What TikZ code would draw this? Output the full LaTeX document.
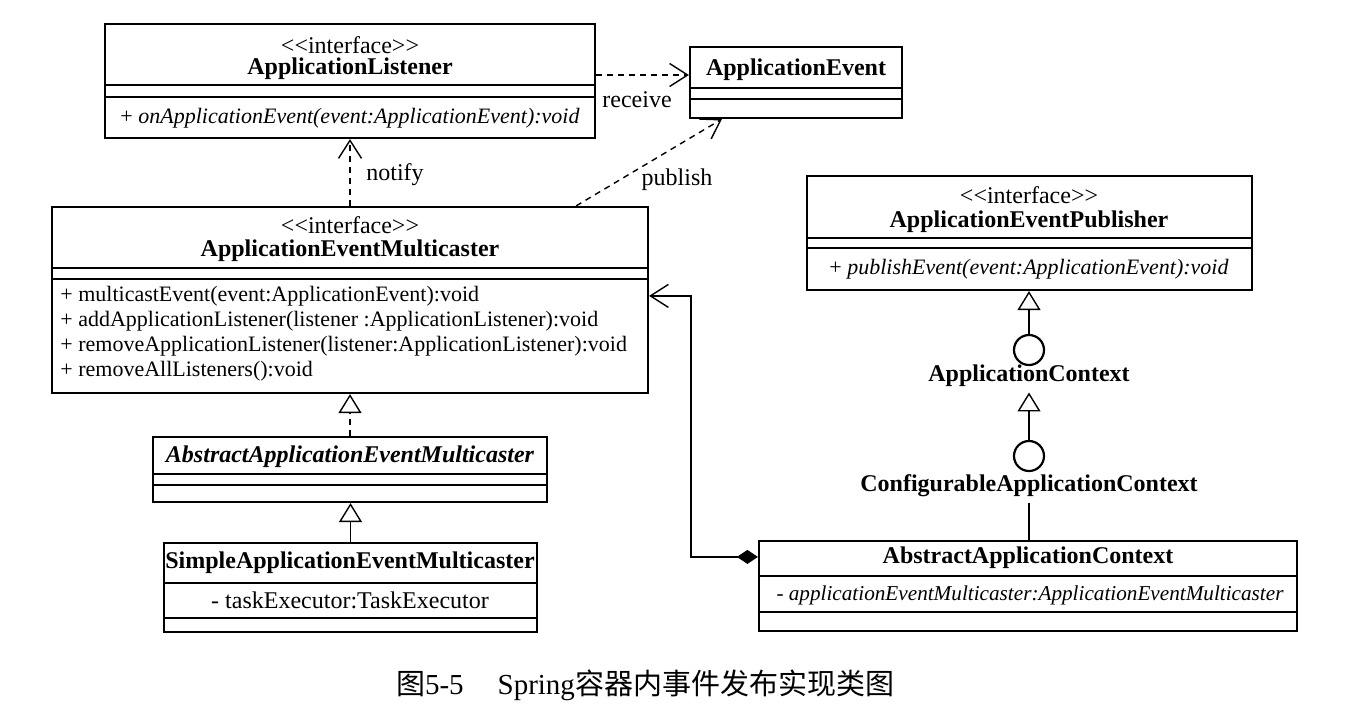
\documentclass[tikz,border=0pt]{standalone}
\usepackage{fontspec}
\setmainfont{Liberation Serif}
\newfontfamily\cjkfont{Noto Sans CJK SC}
\usetikzlibrary{arrows.meta, positioning, calc, fit}
\newcommand\stereo[1]{<\kern0pt<#1>\kern0pt>}

\begin{document}
\begin{tikzpicture}[x=0.5pt, y=-0.5pt,
    cls/.style={draw, line width=1.1pt, inner sep=0pt},
    sep/.style={line width=0.6pt},
    txt/.style={inner sep=1pt, font=\fontsize{11}{12.5}\selectfont},
    big/.style={inner sep=1pt, font=\fontsize{12}{14}\selectfont},
    cname/.style={inner sep=1pt, font=\fontsize{12}{14}\selectfont\bfseries},
    lbl/.style={inner sep=2.6pt, font=\fontsize{12}{14}\selectfont\bfseries},
    dep/.style={line width=0.7pt, dash pattern=on 3pt off 2.5pt, -{Straight Barb[length=9pt, width=11.5pt]}},
    gen/.style={line width=0.7pt, -{Triangle[open, length=9.5pt, width=11.5pt]}},
    real/.style={gen, dash pattern=on 3pt off 2.5pt},
    comp/.style={line width=0.7pt, {Diamond[length=10.5pt, width=7pt]}-{Straight Barb[length=9pt, width=11.5pt]}},
    lolli/.style={circle, draw, line width=1.1pt, minimum size=15pt, inner sep=0pt},
]
\useasboundingbox (0,0) rectangle (1358,718);

% ApplicationListener
\node[cls, fit={(105,24) (595,138)}] (al) {};
\draw[sep] (al.west |- 0,85) -- (al.east |- 0,85);
\draw[sep] (al.west |- 0,97) -- (al.east |- 0,97);
\node[big] (alst) at (350,45) {\stereo{interface}};
\node[cname] (alnm) at (350,69) {ApplicationListener};
\node[txt] (alop) at (350,118) {+ \textit{onApplicationEvent(event:ApplicationEvent):void}};

% ApplicationEvent
\node[cls, fit={(690,47) (902,118)}] (ae) {};
\draw[sep] (ae.west |- 0,88) -- (ae.east |- 0,88);
\draw[sep] (ae.west |- 0,99) -- (ae.east |- 0,99);
\node[cname] (aenm) at (796,70) {ApplicationEvent};

% ApplicationEventMulticaster
\node[cls, fit={(52,207) (648,393)}] (aem) {};
\draw[sep] (aem.west |- 0,268) -- (aem.east |- 0,268);
\draw[sep] (aem.west |- 0,279) -- (aem.east |- 0,279);
\node[big] (aemst) at (350,225) {\stereo{interface}};
\node[cname] (aemnm) at (350,251) {ApplicationEventMulticaster};
\node[txt, anchor=west, align=left] (aemop) at (58,334) {+ multicastEvent(event:ApplicationEvent):void\\
    + addApplicationListener(listener :ApplicationListener):void\\
    + removeApplicationListener(listener:ApplicationListener):void\\
    + removeAllListeners():void};

% AbstractApplicationEventMulticaster
\node[cls, fit={(153,437) (547,502)}] (aaem) {};
\draw[sep] (aaem.west |- 0,474) -- (aaem.east |- 0,474);
\draw[sep] (aaem.west |- 0,485) -- (aaem.east |- 0,485);
\node[cname, font=\fontsize{12}{14}\selectfont\bfseries\itshape] (aaemnm) at (350,457) {AbstractApplicationEventMulticaster};

% SimpleApplicationEventMulticaster
\node[cls, fit={(164,543) (537,632)}] (saem) {};
\draw[sep] (saem.west |- 0,583) -- (saem.east |- 0,583);
\draw[sep] (saem.west |- 0,618) -- (saem.east |- 0,618);
\node[cname] (saemnm) at (350,563) {SimpleApplicationEventMulticaster};
\node[big] (saemat) at (350,600) {- taskExecutor:TaskExecutor};

% ApplicationEventPublisher
\node[cls, fit={(807,176) (1252,290)}] (pub) {};
\draw[sep] (pub.west |- 0,238) -- (pub.east |- 0,238);
\draw[sep] (pub.west |- 0,248) -- (pub.east |- 0,248);
\node[big] (pubst) at (1029,195) {\stereo{interface}};
\node[cname] (pubnm) at (1029,222) {ApplicationEventPublisher};
\node[txt] (pubop) at (1029,269) {+ \textit{publishEvent(event:ApplicationEvent):void}};

% ApplicationContext, ConfigurableApplicationContext
\node[lolli] (ac) at (1029,350) {};
\node[lbl] (acnm) at (1029,376) {ApplicationContext};
\node[lolli] (cac) at (1029,456) {};
\node[lbl] (cacnm) at (1029,486) {ConfigurableApplicationContext};

% AbstractApplicationContext
\node[cls, fit={(759,541) (1297,631)}] (aac) {};
\draw[sep] (aac.west |- 0,576) -- (aac.east |- 0,576);
\draw[sep] (aac.west |- 0,612) -- (aac.east |- 0,612);
\node[cname] (aacnm) at (1028,558) {AbstractApplicationContext};
\node[txt, font=\fontsize{10.6}{12.5}\selectfont] (aacat) at (1030,595) {- \textit{applicationEventMulticaster:ApplicationEventMulticaster}};

% connectors
\draw[dep] (al.east |- 0,75) -- (ae.west |- 0,75);
\node[big] (rcv) at (637,100) {receive};
\draw[dep] (aem.north) -- (al.south);
\node[big] (ntf) at (395,175) {notify};
\draw[dep] ($(aem.north east)+(-73,0)$) -- ($(ae.south west)+(33,0)$);
\node[big] (pbl) at (677,180) {publish};
\draw[real] (aaem.north) -- (aem.south);
\draw[gen] (saem.north) -- (saem.north |- aaem.south);
\draw[gen] (ac.north) -- (ac.north |- pub.south);
\draw[gen] (cac.north) -- (cac.north |- acnm.south);
\draw[line width=0.7pt] (cacnm.south) -- (cacnm.south |- aac.north);
\draw[comp] ($(aac.north west)+(0,17)$) -- ($(aac.north west)+(-67,17)$) |- ($(aem.north east)+(0,90)$);

% caption
\node[font=\fontsize{14.5}{16}\selectfont] (cap) at (645,685) {{\cjkfont 图}5-5\hspace{17pt}Spring{\cjkfont 容器内事件发布实现类图}};
\end{tikzpicture}
\end{document}
